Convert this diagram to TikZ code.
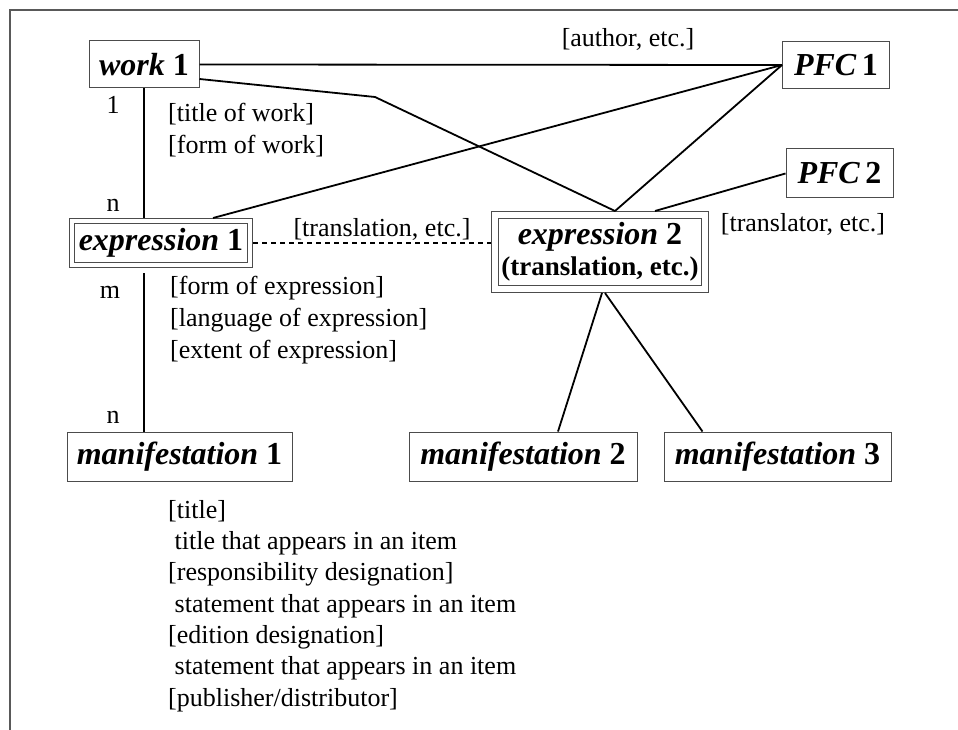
\documentclass[tikz,border=0pt]{standalone}
\usepackage{fontspec}
\setmainfont{Liberation Serif}
\usetikzlibrary{positioning}

\begin{document}
\begin{tikzpicture}[
    x=1pt, y=-1pt,
    entity/.style  = {rectangle, draw=black!70, line width=1pt, inner sep=2pt,
                      minimum height=47pt, font=\fontsize{32}{34}\selectfont\bfseries},
    expbox/.style  = {entity, double, double distance=4pt, outer sep=3pt},
    card/.style    = {inner sep=0pt, font=\fontsize{26}{32}\selectfont},
    attr/.style    = {card, align=left},
    link/.style    = {line width=1.8pt},
]
    \useasboundingbox (0,0) rectangle (958,730);
    \draw[black!65, line width=2.8pt] (10,730) -- (10,10) -- (958,10);

    %Nodes
    \node[entity, minimum width=110pt]                       (work1) at (144,64.5)    {\textit{work} 1};
    \node[entity, minimum width=107pt]                       (pfc1)  at (836,65)      {\textit{PFC}\,1};
    \node[entity, minimum width=107pt, minimum height=49pt]  (pfc2)  at (839.5,173.5) {\textit{PFC}\,2};
    \node[expbox, minimum width=178pt, minimum height=44pt]  (expr1) at (161,243)     {\textit{expression} 1};
    \node[expbox, double distance=6pt, outer sep=4pt, minimum width=210pt,
          minimum height=74pt, align=center]                 (expr2) at (600,252)
          {\textit{expression} 2\\[-3pt]{\fontsize{27}{30}\selectfont(translation, etc.)}};
    \node[entity, minimum width=225pt, minimum height=49pt]  (man1)  at (179.5,456.5) {\textit{manifestation} 1};
    \node[entity, minimum width=228pt, minimum height=49pt]  (man2)  at (523,456.5)   {\textit{manifestation} 2};
    \node[entity, minimum width=227pt, minimum height=49pt]  (man3)  at (777.5,456.5) {\textit{manifestation} 3};
    \coordinate (bend) at (375,97);

    %Labels
    \node[card] (cardone)  at (113,105) {1};
    \node[card] (cardn)    at (113,205) {n};
    \node[card] (cardm)    at (110,292) {m};
    \node[card] (cardnman) at (113,417) {n};
    \node[card] (authorlbl)     at (628,39)  {[author, etc.]};
    \node[card] (translationlbl) at (382,229) {[translation, etc.]};
    \node[card] (translatorlbl)  at (803,224) {[translator, etc.]};
    \node[attr, anchor=west] (workattr) at (168,130)
        {[title of work]\\{}[form of work]};
    \node[attr, anchor=west] (exprattr) at (170,320)
        {[form of expression]\\{}[language of expression]\\{}[extent of expression]};
    \node[attr, anchor=north west, font=\fontsize{26}{31.3}\selectfont] (manattr) at (168,500)
        {[title]\\{}\ title that appears in an item\\{}[responsibility designation]\\{}\ statement that appears in an item\\{}[edition designation]\\{}\ statement that appears in an item\\{}[publisher/distributor]};

    %Lines
    \draw[link] (work1.east) -- (pfc1.west);
    \draw[link] ([yshift=-14.5pt]work1.east) -- (bend) -- ([xshift=15pt]expr2.north);
    \draw[link] ([xshift=52pt]expr1.north) -- (pfc1.west);
    \draw[link] ([xshift=15pt]expr2.north) -- (pfc1.west);
    \draw[link] ([xshift=55pt]expr2.north) -- (pfc2.west);
    \draw[link] (work1.south) -- (work1.south |- expr1.north);
    \draw[link] ([yshift=-5pt]work1.south |- expr1.south) -- (work1.south |- man1.north);
    \draw[link, line width=1.6pt, dash pattern=on 5pt off 4pt] (expr1.east) -- (expr1.east -| expr2.west);
    \draw[link] ([xshift=2pt]expr2.south) -- ([xshift=35pt]man2.north);
    \draw[link] ([xshift=5pt]expr2.south) -- ([xshift=-75pt]man3.north);
\end{tikzpicture}
\end{document}
